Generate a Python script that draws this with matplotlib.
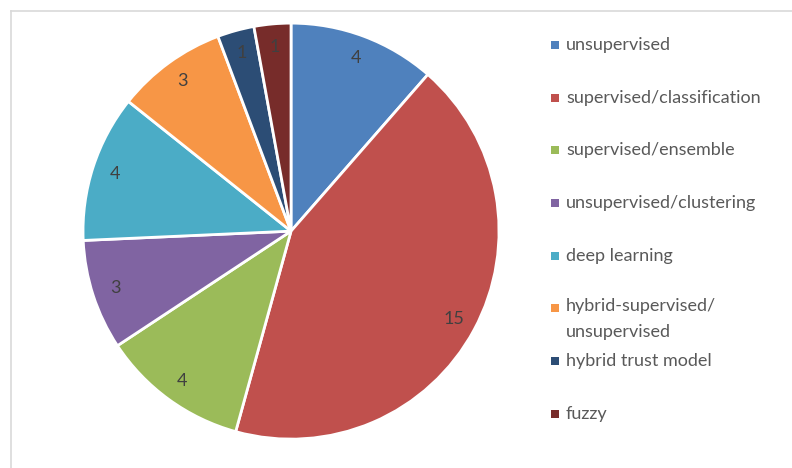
import numpy as np
import matplotlib.pyplot as plt
from matplotlib.patches import Rectangle
from matplotlib.lines import Line2D

# Categories and counts
categories = ["unsupervised", "supervised/classification", "supervised/ensemble",
              "unsupervised/clustering", "deep learning",
              "hybrid-supervised/\nunsupervised", "hybrid trust model", "fuzzy"]
counts = [4, 15, 4, 3, 4, 3, 1, 1]
colors = ["#4F81BD", "#C0504D", "#9BBB59", "#8064A2", "#4BACC6",
          "#F79646", "#2C4D75", "#772C2A"]

plt.rcParams['font.family'] = ['Lato', 'DejaVu Sans']

W, H = 792, 468
fig = plt.figure(figsize=(W / 100, H / 100), dpi=100)

# light frame around the chart area (top and left edges)
fig.add_artist(Line2D([11/W, 1], [1 - 11/H, 1 - 11/H], color="#D9D9D9", lw=1.2))
fig.add_artist(Line2D([11/W, 11/W], [0, 1 - 11/H], color="#D9D9D9", lw=1.2))

# Pie, clockwise from 12 o'clock
ax = fig.add_axes([0.1048, 0.0617, 0.5253, 0.8889])
wedges, texts = ax.pie(counts, colors=colors, startangle=90, counterclock=False,
                       radius=1, wedgeprops=dict(edgecolor="white", linewidth=2))
for w, c in zip(wedges, counts):
    mid = np.deg2rad((w.theta1 + w.theta2) / 2)
    ax.text(0.89 * np.cos(mid), 0.89 * np.sin(mid), str(c), ha="center", va="center",
            fontsize=13, color="#404040")
ax.set_xlim(-1, 1)
ax.set_ylim(-1, 1)
ax.set_aspect("equal")
ax.axis("off")

# Legend, drawn by hand so the spacing follows the chart layout
legend_y = [45, 98, 150, 203, 256, 308, 361, 414]
for lab, col, y in zip(categories, colors, legend_y):
    fig.add_artist(Rectangle((551/W, 1 - (y + 4)/H), 8/W, 8/H,
                             facecolor=col, edgecolor="none"))
    if "\n" in lab:
        fig.text(566/W, 1 - (y - 10)/H, lab, ha="left", va="top",
                 fontsize=13, color="#595959", linespacing=1.8)
    else:
        fig.text(566/W, 1 - y/H, lab, ha="left", va="center",
                 fontsize=13, color="#595959")

fig.savefig("out.png", dpi=100)
